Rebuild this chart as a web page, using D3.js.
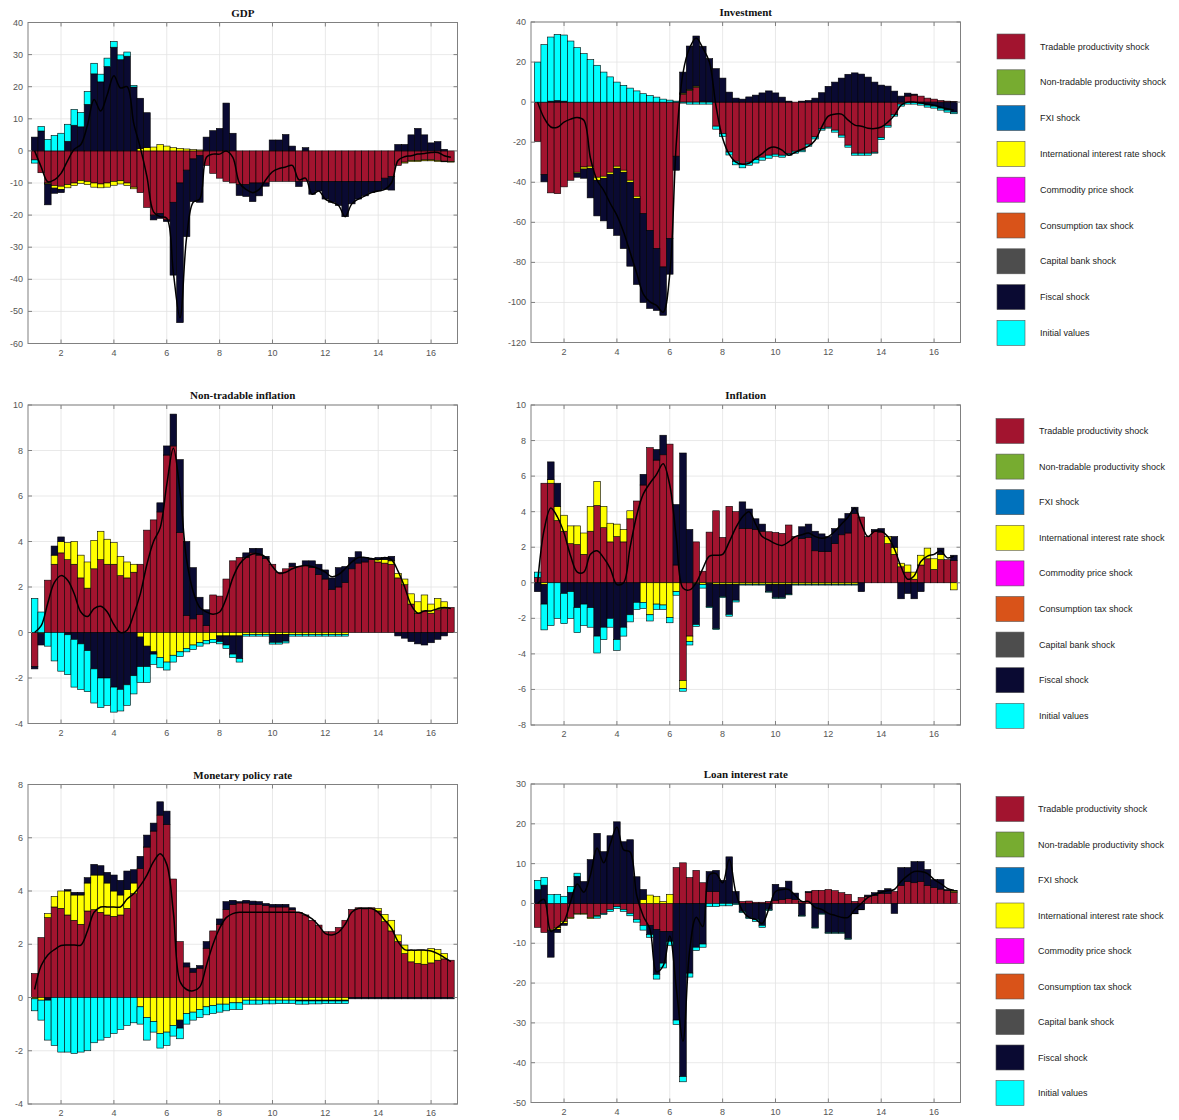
<!DOCTYPE html>
<html>
<head>
<meta charset="utf-8" />
<title>Historical shock decomposition</title>
<script src="https://d3js.org/d3.v7.min.js"></script>
<style>
  body { margin: 0; padding: 0; background: #ffffff; }
  svg { display: block; }
  .tick-label { font-family: "Liberation Sans", Arial, sans-serif; font-size: 9px; fill: #555555; }
  .title { font-family: "Liberation Serif", "Times New Roman", serif; font-size: 11px; font-weight: bold; fill: #111111; }
  .legend-label { font-family: "Liberation Sans", Arial, sans-serif; font-size: 9px; fill: #222222; }
</style>
</head>
<body>
<div id="chart"></div>
<script>

// quarters on the x axis (4 bars per year)
const quarters = d3.range(64).map(i => 1 + i / 4)
const xTicks = [2, 4, 6, 8, 10, 12, 14, 16]

const shockNames = [
  'Tradable productivity shock',
  'Non-tradable productivity shock',
  'FXI shock',
  'International interest rate shock',
  'Commodity price shock',
  'Consumption tax shock',
  'Capital bank shock',
  'Fiscal shock',
  'Initial values'
]
const shockKeys = ['trad', 'nontrad', 'fxi', 'intl', 'comm', 'tax', 'bank', 'fiscal', 'init']
const shockColors = ['#a2142f', '#77ac30', '#0072bd', '#ffff00', '#ff00ff', '#d95319', '#4d4d4d', '#0a0a32', '#00ffff']

// ---- GDP ----
const gdpTradable = [-2.8,-6.8,-10,-10.8,-11,-10.5,-10,-9.2,-9.5,-10, -10.3,-10,-9.5,-9.3,-10,-11.3,-13,-17.6,-20,-19.5,
  -21.5,-16,-10,-6,-2.5,-1.5,-4.5,-7,-8.5,-9.5, -10,-10.5,-10.5,-10,-10,-10,-9.5,-9.5,-9.5,-9.5,
  -9.5,-9.5,-9.5,-9.5,-9.5,-9.5,-9.5,-9.5,-9.5,-9.5, -9.5,-9.5,-9.5,-8.5,-8,-4.5,-3.5,-3,-3,-2.8, -2.8,-3,-3.2,-3.3]
const gdpIntl = [0,0,-0.3,-0.8,-1,-1,-0.8,-0.9,-1,-1.3, -1.2,-1.3,-1.2,-1,-0.8,-0.5,0.8,1,1.2,2,
  1.5,1,0.8,0.6,0.4,0.3,0,0,0,0, 0,0,0,0,0,0,0,0,0,0,
  0,0,0,0,0,0,0,0,0,0, 0,0,0,0,0,0,-0.3,-0.3,-0.3,-0.3, -0.3,-0.3,-0.2,-0.2]
const gdpFiscal = [4.3,6.2,-6.5,-1.6,-1,3,8,7.5,14.5,24, 21.5,26.3,32.3,28.4,29.5,19.9,15.6,10.9,-1.5,-1.5,
  -0.5,-22.7,-43.5,-20.7,-13.3,-14.5,4.3,6.3,7,14.9, 5.5,-3.4,-3.7,-5.8,-4,-1,3.4,3.4,5.1,1.5,
  -1.6,1,-4,-3,-5.5,-6.5,-7.5,-11,-7,-5.5, -4.5,-3.5,-3,-3.5,-4.2,2,2,5,7,5, 2.5,2.9,0.5,0]
const gdpInitial = [-1,1.4,3.6,4.8,5.5,5.3,4.9,4.5,4,3.3, 2.4,2.6,1.8,1.5,1.3,0.5,0,0,0,0,
  0,0,0,0,0,0,0,0,0,0, 0,0,0,0,0,0,0,0,0,0,
  0,0,0,0,0,0,0,0,0,0, 0,0,0,0,0,0,0,0,0,0, 0,0,0,0]
const gdpLine = [0,-5,-9.6,-9,-7,-3,0.5,2,8,16, 12.4,17.6,23.4,19.6,20,8.6,1,-8,-19,-20.5,
  -21,-38,-52,-27,-16,-15,-2,-1,-1,0, -2,-10,-12,-13,-12,-9,-6.5,-5.5,-5,-4.5,
  -9,-8.5,-13.5,-12.5,-15,-16,-17,-20.5,-16.5,-15, -14,-13,-12.5,-12,-10,-3,-1.8,-1.5,-1,-0.8, -0.5,-0.5,-1.5,-2]

// ---- Investment ----
const invTradable = [-19.6,-36.2,-45.3,-45.7,-42.3,-39,-35,-32.4,-32,-37.5, -37,-35,-32,-34,-39,-47,-55.7,-64,-73,-82.3,
  -68,-27,4,5.9,7.5,0.5,0,-12,-15.7,-24.9, -29.5,-31,-30,-28.7,-27.5,-26.5,-26,-26.5,-25.7,-24.5,
  -24,-21,-17.4,-13.3,-12.5,-14,-16.5,-21.5,-25.5,-25.5, -25.5,-25,-17.7,-11.6,-6.2,-1,3,3.5,3,2, 1.5,0.8,0.5,0.3]
const invIntl = [0,0,0,0,0,0,-0.5,-1,-1,-1.5, -1,-1,-1,-1,-1,-1,0,0,0,0,
  0,0,0.5,0.5,0.5,0,0,0,0,0, 0,0,0,0,0,0,0,0,0,0,
  0,0,0,0,0,0,0,0,0,0, 0,0,0,0,0,0,0,0,0,0, 0,0,0,0]
const invFiscal = [0,-3.6,0.5,0.8,0.5,0,-2,-4.6,-14.8,-17.8, -21.3,-27.2,-33.5,-38.1,-41.9,-43,-44.3,-39,-31,-24.1,
  -17.9,-7,10.5,21.6,25,27.4,21.7,16.7,12,5, 2,1.5,2.6,3.5,4.6,5.6,4.6,2.5,0.5,0,
  0.5,0.8,2,4.7,7.9,10,12,13.9,14.6,14, 12.5,10,8.5,8,5.5,3,1.5,0.5,-0.5,-1.5, -2,-3,-4,-5]
const invInitial = [20,28.7,32,33,33,30.5,27.2,24.2,21.2,18.4, 15,12.6,10,8.4,7,5.6,4.2,3.3,2.5,1.5,
  1,0.5,-0.5,-1,-1,-1,-1,-1.5,-1.5,-1.5, -1.8,-1.8,-1.5,-1.7,-1.5,-1.5,-1,-1,-0.8,-1,
  -0.8,-1,-1,-0.7,-0.5,-1,-1,-1,-1,-1, -1,-0.5,-1,-0.9,-0.8,-1,-1,-1,-1,-1, -1,-1,-1,-0.8]
const invLine = [0,-8,-12.4,-12.5,-10,-8.5,-7.7,-9,-28,-39, -44,-50.6,-56.5,-64.7,-74.9,-85.4,-95.8,-99.7,-101.5,-104.9,
  -86,-20,14.5,27,32,27,20,-2,-18,-26, -30,-31,-30.5,-28,-25.7,-23,-22.5,-24,-26.5,-25,
  -23.5,-22,-19,-12.4,-7,-6,-6,-9,-11.5,-12, -13,-13.2,-12.4,-10,-6.6,-1.5,0,0,-0.5,-1, -1.5,-2.5,-3.3,-4]

// ---- Non-tradable inflation ----
const ntTradable = [-1.5,0,2.3,3,3.5,3.2,3,2.4,1.95,2.8, 3.2,3,3,2.5,2.4,2.65,3,4.5,4.95,5.3,
  7.8,8.2,4.4,0.75,0.6,0.8,0.3,1.65,1.6,2.35, 3.15,3.3,3.3,3.5,3.4,3.25,3,2.65,2.8,2.9,
  2.9,2.95,2.85,2.55,2.35,1.9,2,2.2,2.8,3.05, 3.1,3.2,3.1,3.05,3,2.4,2.1,1.25,0.85,0.95, 0.85,1,1.05,1.1]
const ntIntl = [0,-0.05,0,0.4,0.5,0.75,1,1,1.15,1.25, 1.25,1.1,0.95,0.85,0.7,0.35,-0.2,-0.6,-0.85,-1.1,
  -1.3,-1,-0.85,-0.7,-0.55,-0.45,-0.35,-0.3,-0.15,-0.15, -0.15,-0.15,-0.08,-0.08,-0.08,-0.08,-0.08,-0.08,-0.08,-0.08,
  -0.08,-0.08,-0.08,-0.08,-0.08,-0.08,-0.08,-0.08,0,0, 0,0,0.1,0.15,0.15,0.2,0.25,0.45,0.5,0.7, 0.4,0.5,0.3,0]
const ntFiscal = [-0.1,-0.5,0,0.4,0.2,-0.1,-0.3,-0.5,-0.8,-1.6, -2,-2,-2.4,-2.5,-2.3,-1.9,-1.3,-0.9,-0.1,0.4,
  0.4,1.4,3.2,3.25,2.25,0.75,0.7,0,-0.25,-0.4, -0.8,-1,0.2,0.2,0.3,0.1,-0.35,-0.35,-0.3,0.15,
  0,0.2,0.3,0.45,0.4,0.5,0.85,0.7,0.5,0.5, 0.2,0.05,0.1,0.1,0.2,-0.15,-0.25,-0.4,-0.5,-0.55, -0.45,-0.3,-0.15,0]
const ntInitial = [1.5,0.9,-0.6,-1.25,-1.7,-1.75,-2.1,-2,-1.8,-1.5, -1.3,-1.2,-1.1,-0.95,-0.9,-0.8,-0.7,-0.7,-0.45,-0.45,
  -0.35,-0.3,-0.2,-0.15,-0.2,-0.15,-0.15,-0.15,-0.1,-0.15, -0.15,-0.15,-0.08,-0.08,-0.08,-0.08,-0.08,-0.08,-0.08,-0.08,
  -0.08,-0.08,-0.08,-0.08,-0.08,-0.08,-0.08,-0.08,0,0, 0,0,0,0,0,0,0,0,0,0, 0,0,0,0]
const ntLine = [0,0.3,1.3,2.2,2.5,2.3,1.7,0.9,0.7,1.05, 1.15,0.9,0.35,0,0.1,0.8,1.7,3,4,4.6,
  6.5,8.1,6.2,3.2,1.8,1.1,0.9,0.8,0.9,1.5, 2.4,3,3.3,3.45,3.45,3.3,2.9,2.6,2.65,2.8,
  2.9,2.95,2.9,2.8,2.65,2.45,2.55,2.8,3.1,3.3, 3.3,3.25,3.2,3.3,3.2,2.7,2,1.2,0.85,0.95, 0.95,1.05,1.1,1.05]

// ---- Inflation ----
const infTradable = [0.3,5.6,5.6,3.5,2.9,2.2,2.15,1.6,2.9,4.35, 3.1,2.3,2.6,2.3,3.6,4.6,5.5,7.6,6.9,7.2,
  7.8,1,-5.5,-3,2.3,0.65,2.85,4.05,2.55,4.3, 4,3.05,3.05,3,2.9,2.87,2.83,2.78,3.25,2.6,
  2.5,2.55,1.8,1.75,1.75,2.2,2.7,2.8,3.9,3.7, 2.6,2.9,2.85,2.2,1.6,0.9,0.6,0.2,1,1.35, 0.75,1.3,1.3,1.25]
const infIntl = [0,-0.1,0.2,0.8,0.9,1,1.05,1.2,1.4,1.35, 1.2,1.05,0.7,0.7,0.45,0,-1.1,-1.8,-1.2,-1.25,
  -1.95,-0.5,-0.45,-0.3,-0.05,-0.1,-0.05,-0.08,-0.08,-0.08, -0.08,-0.08,-0.08,-0.08,-0.08,-0.08,-0.08,-0.08,-0.08,-0.08,
  -0.08,-0.08,-0.08,-0.08,-0.08,-0.08,-0.08,-0.08,-0.08,0, 0,0,0,0.4,0.4,0.2,0.4,0.4,0.55,0.6, 0.6,0.3,0,-0.4]
const infFiscal = [-0.5,-1.1,1,1.3,-0.6,-0.5,-1.4,-1.2,-1.4,-3, -2.5,-2,-3.2,-2.5,-1.8,-1.1,0.6,0,0.6,1.1,
  0,3.4,7.3,3,-2.3,0,-1.3,-2.5,-0.7,-1.7, -0.9,1.5,1.1,0.6,0.4,-0.4,-0.75,-0.75,-0.55,0,
  0.65,0.75,1.1,1,0.85,0.85,0.9,1.1,0.35,-0.5, 0,0.1,0.2,0,0.6,-0.9,-0.6,-0.9,-0.5,0, 0,0.35,0,0.3]
const infInitial = [0.3,-1.45,-2.4,-2,-1.7,-1.5,-1.4,-1.2,-1.1,-0.95, -0.7,-0.5,-0.6,-0.5,-0.4,-0.4,-0.35,-0.35,-0.3,-0.25,
  -0.3,-0.2,-0.15,-0.2,-0.1,-0.2,-0.05,-0.05,-0.05,-0.1, -0.1,-0.05,-0.05,-0.05,-0.05,-0.05,-0.05,-0.05,-0.05,-0.05,
  -0.05,-0.05,-0.05,-0.05,-0.05,-0.05,-0.05,-0.05,-0.05,0, 0,0,0,0,0,0,0,0,0,0, 0,0,0,0]
const infLine = [0,3,4.2,3.7,2.8,1.5,0.6,0.6,1.6,1.8, 1.4,0.8,-0.1,0,2,3.8,5,5.6,6.1,6.7,
  5.5,2.5,-0.3,-0.4,0,0.8,1.5,1.55,1.6,2.3, 3.1,3.7,4,3.3,2.6,2.4,2.2,2.1,2.3,2.6,
  2.7,2.8,2.6,2.5,2.6,2.9,3.3,3.7,4.2,3.3, 2.6,2.9,2.9,2.6,1.9,0.9,0.2,0.4,1.2,1.5, 1.6,1.8,1.4,1.5]

// ---- Monetary policy rate ----
const mprTradable = [0.9,2.25,3,3.4,3.35,3.1,2.9,2.75,3.25,3.3, 3.2,3.1,3.05,3.1,3.35,3.9,4.85,5.65,6.25,6.85,
  6.5,4.45,2.1,1.15,0.95,1.1,1.85,2.5,2.75,3.3, 3.5,3.55,3.55,3.5,3.5,3.45,3.4,3.4,3.4,3.3,
  3.2,3.1,2.9,2.72,2.47,2.47,2.63,2.9,3.3,3.37, 3.37,3.37,3.25,2.85,2.5,2.1,1.65,1.34,1.28,1.25, 1.3,1.4,1.45,1.4]
const mprIntl = [-0.05,-0.1,0.15,0.4,0.65,0.9,0.95,1.1,1.05,1.3, 1.4,1.2,0.95,0.75,0.7,0.4,-0.35,-0.75,-0.9,-1.35,
  -1.3,-1.05,-0.85,-0.6,-0.55,-0.45,-0.35,-0.3,-0.25,-0.25, -0.2,-0.2,-0.1,-0.1,-0.1,-0.1,-0.1,-0.1,-0.1,-0.1,
  -0.1,-0.1,-0.1,-0.1,-0.1,-0.1,-0.1,-0.1,0,0, 0,0,0.1,0.27,0.4,0.25,0.32,0.44,0.5,0.53, 0.54,0.4,0.2,0]
const mprFiscal = [0,0,-0.1,0,0,0.05,0.1,0.1,0.2,0.4, 0.35,0.4,0.6,0.55,0.7,0.5,0.45,0.45,0.3,0.5,
  0.5,0,-0.3,0.15,0.15,0.1,0.25,0,0.2,0.3, 0.15,0.05,0.1,0.12,0.1,0.08,0.1,0.1,0.1,0.07,
  -0.03,-0.03,-0.03,-0.03,-0.03,-0.03,-0.03,-0.03,-0.05,-0.05, -0.05,-0.05,-0.05,-0.05,-0.05,-0.05,-0.05,-0.05,-0.05,-0.05, -0.05,-0.05,-0.05,-0.05]
const mprInitial = [-0.45,-0.75,-1.5,-1.8,-2.05,-2.05,-2.1,-2.05,-2,-1.7, -1.6,-1.5,-1.35,-1.2,-1.05,-0.95,-0.65,-0.85,-0.4,-0.55,
  -0.5,-0.4,-0.4,-0.4,-0.3,-0.3,-0.3,-0.3,-0.3,-0.25, -0.25,-0.25,-0.15,-0.15,-0.15,-0.14,-0.14,-0.13,-0.13,-0.12,
  -0.12,-0.12,-0.11,-0.11,-0.1,-0.1,-0.1,-0.1,0,0, 0,0,0,0,0,0,0,0,0,0, 0,0,0,0]
const mprLine = [0.3,1.2,1.6,1.8,1.95,1.97,1.97,1.97,2.5,3.2, 3.4,3.4,3.4,3.4,3.7,3.9,4.2,4.6,5.1,5.4,
  5,3.2,0.6,0.3,0.25,0.4,1.2,2,2.6,3, 3.15,3.2,3.2,3.2,3.2,3.2,3.2,3.2,3.2,3.2,
  3.2,3.1,2.95,2.7,2.4,2.35,2.45,2.75,3.2,3.34, 3.34,3.34,3.2,2.9,2.6,2.1,1.8,1.78,1.78,1.78, 1.75,1.65,1.5,1.35]

// ---- Loan interest rate ----
const loanTradable = [-6,-7.3,-6.5,-6,-4.5,-3.5,-2.5,-2.5,-3.5,-3, -2.5,-1.5,-0.8,-1.5,-2.5,-4,-5.5,-5.5,-6.5,-7,
  -7,9,10.2,6.5,8.3,5.2,3,3,0,0, 0,0.5,0.6,0.3,0.3,0.5,0.8,1,1.2,1,
  0.5,2.8,3.3,3.3,3.5,3.2,2.7,2.3,0.5,1.5, 1.8,2,2.5,2.5,3,4.5,5.5,5.2,5.5,4.5, 4,3.6,3.2,2.8]
const loanIntl = [0,0,-0.3,-0.5,-0.5,-0.3,-0.2,-0.2,-0.3,-0.2, 0,0,0,0,0,0,1,2.1,1.8,0.5,
  2.3,0,0,0,0,0,0,0,0,0, 0,0,0,0,0,0,0,0,0,0,
  0,0,0,0,0,0,0,0,0,0, 0,0,0,0,0,0,0,0,0,0, 0,0,0,0.3]
const loanFiscal = [3.5,4.6,-6.7,-0.8,-0.5,2.8,6.8,5.5,11,17.6, 13,17,20.5,15.5,16,6.7,2.5,-2.3,-11.3,-8,
  -2.5,-29.3,-43.5,-17.5,-11,-10.2,5,5.3,5.8,11.7, 3,-2,-3.5,-4,-5.5,-1.5,4,3,4.4,1.6,
  -3,0.2,-6,-2.5,-7.3,-7.3,-7.3,-8.8,-2.5,-1.5, 0.3,0.7,0.8,1.2,-2.5,4.5,3.5,5.3,5,4, 2,2.4,0.3,0.2]
const loanInitial = [2.3,1.9,2.2,2.3,1.8,1.5,0.8,0,0,-0.5, -0.3,-0.5,-0.5,-0.5,-0.6,-0.7,-1.2,-0.7,-1.2,-1.2,
  -1,-1.1,-1.3,-1,-0.8,-0.8,-0.8,-0.8,-0.6,-0.6, -0.3,-0.3,-0.3,-0.5,-0.5,-0.3,0,0,0,0,
  -0.2,0,-0.2,-0.2,-0.2,-0.2,-0.2,-0.2,-0.1,-0.1, 0,0,0,0,0,0,0,0,0,0, 0,0,0,0]
const loanLine = [0,1,-7,-6,-4.5,0.5,4.9,2.8,7.2,13.9, 10.2,15,19.2,13.5,12.9,2,-3.2,-6.4,-17.2,-15.7,
  -8.2,-21.4,-34.6,-12,-3.5,-5.8,7.2,7.5,5.2,11.1, 2.7,-1.8,-3.5,-4,-5,-1.3,3,3.5,3.5,2,
  0.5,0.5,-1,-1.5,-2.5,-3,-3.5,-3.5,-1.5,0, 1.5,2.2,2.8,3.2,3.5,5.5,7,8,8,7.5, 6,5,3.8,3.3]

// layout of the six panels
const panels = [
  { title: 'GDP', x0: 28, x1: 457.5, y0: 22.5, y1: 343.5, yDomain: [-60, 40], yStep: 10,
    data: { trad: gdpTradable, intl: gdpIntl, fiscal: gdpFiscal, init: gdpInitial }, line: gdpLine },
  { title: 'Investment', x0: 531, x1: 960.5, y0: 22, y1: 342.5, yDomain: [-120, 40], yStep: 20,
    data: { trad: invTradable, intl: invIntl, fiscal: invFiscal, init: invInitial }, line: invLine },
  { title: 'Non-tradable inflation', x0: 28, x1: 457.5, y0: 405, y1: 723.5, yDomain: [-4, 10], yStep: 2,
    data: { trad: ntTradable, intl: ntIntl, fiscal: ntFiscal, init: ntInitial }, line: ntLine },
  { title: 'Inflation', x0: 531, x1: 960.5, y0: 405, y1: 725, yDomain: [-8, 10], yStep: 2,
    data: { trad: infTradable, intl: infIntl, fiscal: infFiscal, init: infInitial }, line: infLine },
  { title: 'Monetary policy rate', x0: 28, x1: 457.5, y0: 784.5, y1: 1104, yDomain: [-4, 8], yStep: 2,
    data: { trad: mprTradable, intl: mprIntl, fiscal: mprFiscal, init: mprInitial }, line: mprLine },
  { title: 'Loan interest rate', x0: 531, x1: 960.5, y0: 784, y1: 1102.5, yDomain: [-50, 30], yStep: 10,
    data: { trad: loanTradable, intl: loanIntl, fiscal: loanFiscal, init: loanInitial }, line: loanLine }
]

const legends = [
  { x: 997, y: 46.5, step: 35.8, textX: 1040 },
  { x: 996, y: 431, step: 35.6, textX: 1039 },
  { x: 996, y: 809, step: 35.5, textX: 1038 }
]

const svg = d3.select('#chart').append('svg')
  .attr('width', 1179)
  .attr('height', 1120)
  .style('background', '#ffffff')

panels.forEach((p, pi) => {
  const x = d3.scaleLinear().domain([0.75, 17]).range([p.x0, p.x1])
  const y = d3.scaleLinear().domain(p.yDomain).range([p.y1, p.y0])
  const yTicks = d3.range(p.yDomain[0], p.yDomain[1] + 0.001, p.yStep)
  const barW = x(1.25) - x(1)

  const g = svg.append('g')

  // grid
  g.selectAll('.gx').data(xTicks).enter().append('line')
    .attr('x1', d => x(d)).attr('x2', d => x(d))
    .attr('y1', p.y0).attr('y2', p.y1)
    .attr('stroke', '#e3e3e3').attr('stroke-width', 0.8)
  g.selectAll('.gy').data(yTicks).enter().append('line')
    .attr('x1', p.x0).attr('x2', p.x1)
    .attr('y1', d => y(d)).attr('y2', d => y(d))
    .attr('stroke', '#e3e3e3').attr('stroke-width', 0.8)

  // clip
  svg.append('clipPath').attr('id', 'clip' + pi)
    .append('rect').attr('x', p.x0).attr('y', p.y0)
    .attr('width', p.x1 - p.x0).attr('height', p.y1 - p.y0)

  const rows = quarters.map((q, i) => {
    const r = { q: q }
    shockKeys.forEach(k => { r[k] = p.data[k] ? p.data[k][i] : 0 })
    return r
  })
  const stacked = d3.stack().keys(shockKeys).offset(d3.stackOffsetDiverging)(rows)

  const plot = g.append('g').attr('clip-path', 'url(#clip' + pi + ')')

  stacked.forEach((s, si) => {
    plot.append('g').selectAll('rect')
      .data(s.filter(d => Math.abs(d[1] - d[0]) > 1e-9))
      .enter().append('rect')
      .attr('x', d => x(d.data.q) - barW / 2)
      .attr('width', barW)
      .attr('y', d => y(Math.max(d[0], d[1])))
      .attr('height', d => Math.abs(y(d[0]) - y(d[1])))
      .attr('fill', shockColors[si])
      .attr('stroke', '#000000')
      .attr('stroke-width', 0.6)
  })

  const line = d3.line()
    .x((d, i) => x(quarters[i]))
    .y(d => y(d))
    .curve(d3.curveCatmullRom.alpha(0.5))
  plot.append('path')
    .datum(p.line)
    .attr('fill', 'none')
    .attr('stroke', '#000000')
    .attr('stroke-width', 1.5)
    .attr('d', line)

  // axes box and inward ticks
  g.append('rect')
    .attr('x', p.x0).attr('y', p.y0)
    .attr('width', p.x1 - p.x0).attr('height', p.y1 - p.y0)
    .attr('fill', 'none').attr('stroke', '#808080').attr('stroke-width', 1)

  xTicks.forEach(t => {
    g.append('line').attr('x1', x(t)).attr('x2', x(t)).attr('y1', p.y1).attr('y2', p.y1 - 4)
      .attr('stroke', '#808080')
    g.append('line').attr('x1', x(t)).attr('x2', x(t)).attr('y1', p.y0).attr('y2', p.y0 + 4)
      .attr('stroke', '#808080')
    g.append('text').attr('class', 'tick-label')
      .attr('x', x(t)).attr('y', p.y1 + 12)
      .attr('text-anchor', 'middle').text(t)
  })
  yTicks.forEach(t => {
    g.append('line').attr('x1', p.x0).attr('x2', p.x0 + 4).attr('y1', y(t)).attr('y2', y(t))
      .attr('stroke', '#808080')
    g.append('line').attr('x1', p.x1).attr('x2', p.x1 - 4).attr('y1', y(t)).attr('y2', y(t))
      .attr('stroke', '#808080')
    g.append('text').attr('class', 'tick-label')
      .attr('x', p.x0 - 5).attr('y', y(t) + 3)
      .attr('text-anchor', 'end').text(t)
  })

  g.append('text').attr('class', 'title')
    .attr('x', (p.x0 + p.x1) / 2).attr('y', p.y0 - 6)
    .attr('text-anchor', 'middle').text(p.title)
})

// legends
legends.forEach(L => {
  const lg = svg.append('g')
  shockNames.forEach((name, i) => {
    const cy = L.y + i * L.step
    lg.append('rect')
      .attr('x', L.x).attr('y', cy - 12.5)
      .attr('width', 28).attr('height', 25)
      .attr('fill', shockColors[i])
      .attr('stroke', '#555555').attr('stroke-width', 0.6)
    lg.append('text').attr('class', 'legend-label')
      .attr('x', L.textX).attr('y', cy + 3)
      .text(name)
  })
})

</script>
</body>
</html>
